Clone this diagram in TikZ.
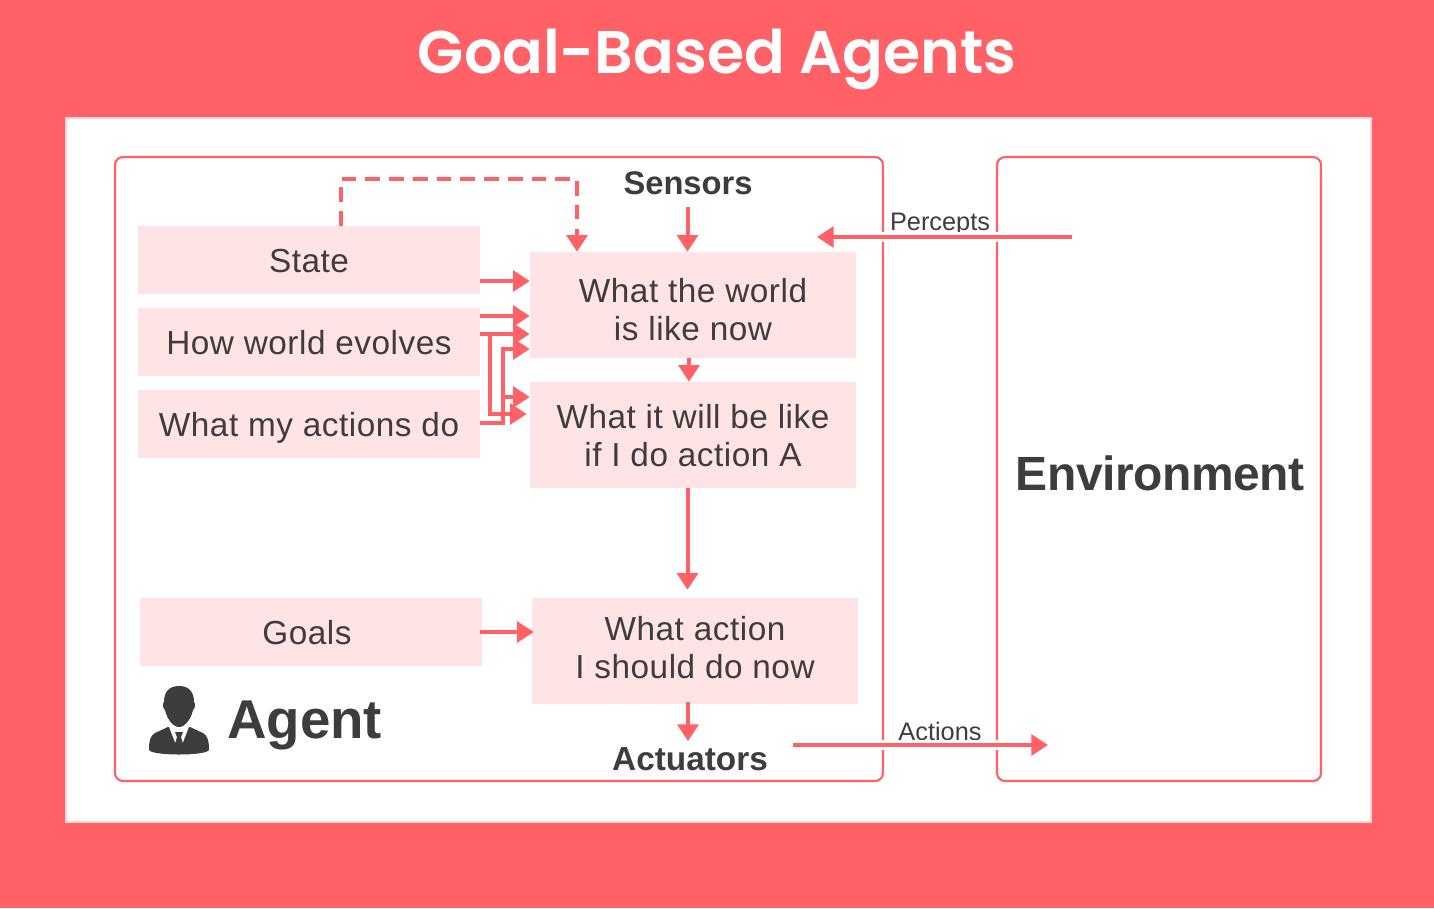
\documentclass[tikz,border=0pt]{standalone}
\usepackage{fontspec}
\usetikzlibrary{arrows.meta,calc}
\setmainfont{Liberation Sans}
\newfontfamily\titlefont{Poppins SemiBold}
\newcommand{\fs}[1]{\fontsize{#1}{#1}\selectfont}
\newcommand{\twolines}[3]{\raisebox{#1}[0pt][0pt]{\begin{tabular}{@{}c@{}}#2\\[2.8pt]#3\end{tabular}}}
\definecolor{coral}{HTML}{FF6166}
\definecolor{blush}{HTML}{FFE3E5}
\definecolor{ink}{HTML}{3D3D3D}
\definecolor{rim}{HTML}{F5D5D6}
\tikzset{
  pbase/.style={fill=blush,draw=none,inner sep=0pt,align=center,text=ink,font=\fs{25}\addfontfeatures{LetterSpace=1.6}},
  pbox/.style={pbase,text height=21pt,text depth=2pt,minimum width=256.5pt,minimum height=51pt},
  tbox/.style={pbase,minimum width=244.5pt,minimum height=79.5pt},
  panel/.style={draw=coral,line width=1.6pt,rounded corners=6pt,fill=white,inner sep=0pt},
  flow/.style={draw=coral,line width=3pt,-{Triangle[length=12.5pt,width=15.5pt]}},
  halo/.style={draw=white,line width=7.5pt},
  small/.style={font=\fs{19},text=ink,inner sep=0pt},
  head/.style={font=\bfseries\fs{25},text=ink,inner sep=0pt}
}
\begin{document}
\begin{tikzpicture}[x=0.75pt,y=-0.75pt]
\useasboundingbox (0,0) rectangle (1434,908);
\fill[coral] (0,0) rectangle (1434,908);
\draw[rim,line width=1pt,fill=white] (66,118) rectangle (1371,822);
\node[font=\titlefont\fs{45.1},text=white,inner sep=0pt] (title) at (717,59) {Goal-Based Agents};
% panels
\node[panel,minimum width=576pt,minimum height=468pt] (agent) at (499,469) {};
\node[panel,minimum width=243pt,minimum height=468pt] (env) at (1159,469) {};
% boxes
\node[pbox] (state) at (309,260) {State};
\node[pbox] (evolves) at (309,342) {How world evolves};
\node[pbox] (actsdo) at (309,424) {What my actions do};
\node[tbox] (world) at (693,305) {\twolines{-13pt}{What the world}{is like now}};
\node[tbox] (willbe) at (693,435) {\twolines{-10pt}{What it will be like}{if I do action A}};
\node[pbox] (goals) at (311,632) {\hspace*{-6pt}Goals};
\node[tbox] (action) at (695,651) {\twolines{-7pt}{What action}{I should do now}};
% headings
\node[head,font=\bfseries\fs{24.5}] (sensors) at (688,183) {Sensors};
\node[head] (actuators) at (690,759) {Actuators};
\node[font=\bfseries\fs{36}\addfontfeatures{LetterSpace=-1},text=ink,inner sep=0pt] (envlabel) at (1160,473) {Environment};
\node[font=\bfseries\fs{41},text=ink,inner sep=0pt,anchor=west] (agentlabel) at (227,725) {Agent};
% labels on the long arrows
\node[small,anchor=base] (percepts) at (940,230) {Percepts};
\node[small,anchor=base] (actions) at (940,740) {Actions};
% level helpers
\coordinate (la) at (0,281);
\coordinate (lb) at (0,316);
\coordinate (lc) at (0,334);
\coordinate (ld) at (0,349);
\coordinate (le) at (0,397);
\coordinate (lf) at (0,414);
\coordinate (lg) at (0,423);
\coordinate (perStart) at (1072,237);
\coordinate (perEnd) at (817,237);
\coordinate (actStart) at (793,745);
\coordinate (actEnd) at (1048,745);
\coordinate (busA) at (490,0);
\coordinate (busB) at (503,0);
\coordinate (dashA) at (341,0);
\coordinate (dashB) at (577,0);
\coordinate (dashTop) at (0,179);
\coordinate (xs) at (687.5,0);
% long arrows with their white halo
\draw[halo] (perStart) -- (perEnd);
\draw[halo] (actStart) -- (actEnd);
\draw[flow] (perStart) -- (perEnd);
\draw[flow] (actStart) -- (actEnd);
% dashed feedback
\draw[draw=coral,line width=3.2pt,dash pattern=on 11pt off 6.8pt] (dashA |- state.north) -- (dashA |- dashTop) -- (dashB |- dashTop) -- ($(dashB |- world.north)+(0,-22)$);
\draw[flow] ($(dashB |- world.north)+(0,-22)$) -- (dashB |- world.north);
% input arrows
\draw[flow] (xs |- sensors.south) ++(0,12) -- (xs |- world.north);
\draw[flow] (state.east |- la) -- (world.west |- la);
\draw[flow] (evolves.east |- lb) -- (world.west |- lb);
\draw[flow] (evolves.east |- lc) -- (world.west |- lc);
\draw[flow] (actsdo.east |- lg) -- (busB |- lg) -- (busB |- ld) -- (world.west |- ld);
\draw[flow] (busB |- le) -- (willbe.west |- le);
\draw[flow] (busA |- lc) -- (busA |- lf) -- ($(willbe.west |- lf)+(-3,0)$);
\draw[flow] (689,0 |- world.south) -- (689,0 |- willbe.north);
\draw[flow] (xs |- willbe.south) -- ($(xs |- action.north)+(0,-8)$);
\draw[flow] (goals.east |- 0,632) ++(-2,0) -- (action.west |- 0,632) -- ++(2,0);
\draw[flow] ($(xs |- action.south)+(0.5,-2)$) -- ($(xs |- actuators.north)+(0.5,-6)$);
% person icon
\fill[ink] (179,686) .. controls (169,686) and (164,692) .. (164,702)
  .. controls (162,703) and (163,709) .. (165,710)
  .. controls (167,719) and (173,727) .. (179,727)
  .. controls (185,727) and (191,719) .. (193,710)
  .. controls (195,709) and (196,703) .. (194,702)
  .. controls (194,692) and (189,686) .. (179,686) -- cycle;
\fill[ink] (168,727) -- (155,733) .. controls (150,736) and (149,741) .. (149,750)
  .. controls (152,756) and (206,756) .. (209,750)
  .. controls (209,741) and (208,736) .. (203,733) -- (190,727) -- (189,727) -- (179,753) -- (169,727) -- cycle;
\fill[ink] (175,732) -- (183,732) -- (181,737) -- (184,747) -- (179,753) -- (174,747) -- (177,737) -- cycle;
\end{tikzpicture}
\end{document}
